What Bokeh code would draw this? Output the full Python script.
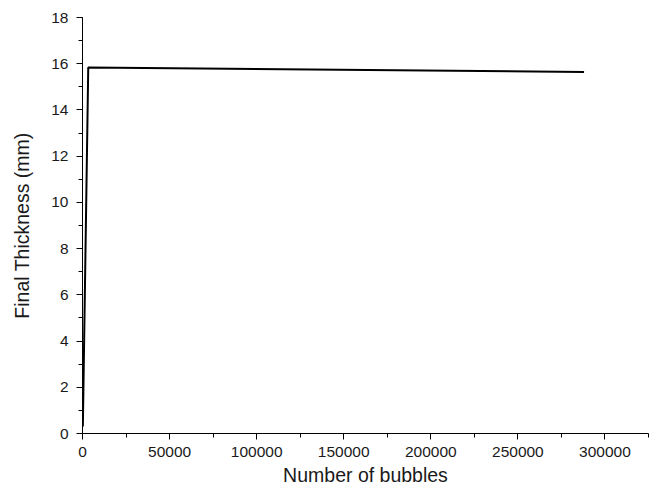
from bokeh.plotting import figure
from bokeh.models import SingleIntervalTicker, Range1d
from bokeh.embed import file_html
from bokeh.resources import INLINE

# Final thickness versus number of bubbles
bubbles = [200, 3300, 288000]
thickness = [0.3, 15.84, 15.64]

x_ticks_interval = 50000
y_ticks_interval = 2

p = figure(width=654, height=488, output_backend="svg", toolbar_location=None,
           x_range=Range1d(0, 325000), y_range=Range1d(0, 18),
           min_border_left=82, min_border_right=6, min_border_top=17, min_border_bottom=55)

p.line(bubbles, thickness, line_color="black", line_width=2)

p.xgrid.visible = False
p.ygrid.visible = False
p.outline_line_color = None
p.background_fill_color = "white"
p.border_fill_color = "white"

p.xaxis.ticker = SingleIntervalTicker(interval=x_ticks_interval, num_minor_ticks=2)
p.yaxis.ticker = SingleIntervalTicker(interval=y_ticks_interval, num_minor_ticks=2)
p.xaxis.formatter.use_scientific = False

for ax in (p.xaxis, p.yaxis):
    ax.axis_line_color = "black"
    ax.axis_line_width = 1
    ax.major_tick_line_color = "black"
    ax.minor_tick_line_color = "black"
    ax.major_tick_in = 0
    ax.major_tick_out = 6
    ax.minor_tick_in = 0
    ax.minor_tick_out = 4
    ax.major_label_text_font = "Liberation Sans"
    ax.major_label_text_font_size = "15.5px"
    ax.major_label_text_color = "#1a1a1a"
    ax.axis_label_text_font = "Liberation Sans"
    ax.axis_label_text_font_size = "19.5px"
    ax.axis_label_text_font_style = "normal"
    ax.axis_label_text_color = "#1a1a1a"

p.xaxis.axis_label = "Number of bubbles"
p.yaxis.axis_label = "Final Thickness (mm)"
p.xaxis.major_label_standoff = 7
p.yaxis.major_label_standoff = 8
p.xaxis.axis_label_standoff = 4
p.yaxis.axis_label_standoff = 15

open("out.html", "w").write(file_html(p, INLINE))
